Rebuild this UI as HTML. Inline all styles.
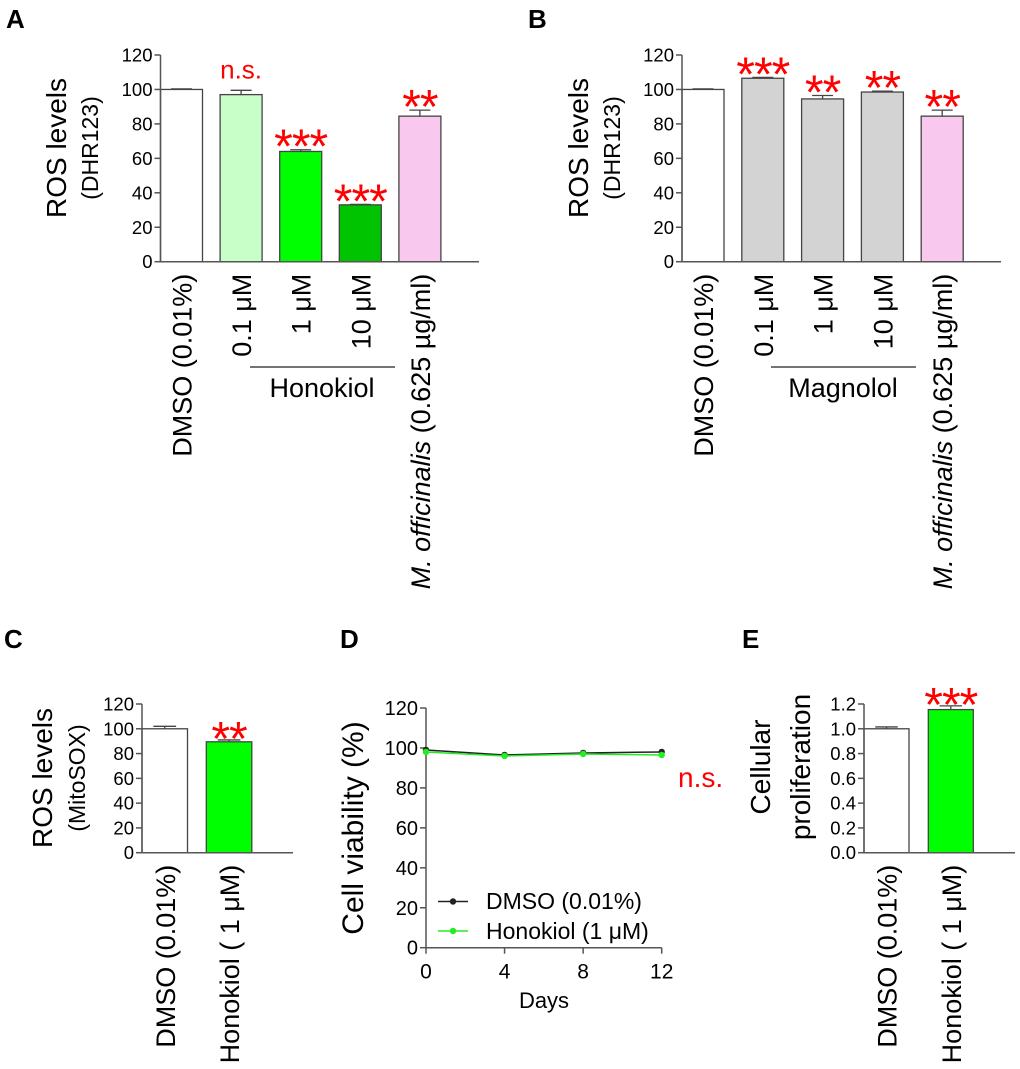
<!DOCTYPE html>
<html><head><meta charset="utf-8"><style>
body{margin:0;background:#fff}
svg{display:block;font-family:"Liberation Sans",Arial,sans-serif}
</style></head><body>
<svg id="fig" width="1020" height="1069" viewBox="0 0 1020 1069"></svg>
<script>
// Panel A data
const aCats = ["DMSO (0.01%)","0.1 μM","1 μM","10 μM","M. officinalis"];
const aVals = [100, 97, 64, 33, 84.5];
const aErrs = [0.3, 2.5, 1, 0.3, 3.5];
const aSig = ["", "n.s.", "***", "***", "**"];
// Panel B data
const bCats = ["DMSO (0.01%)","0.1 μM","1 μM","10 μM","M. officinalis"];
const bVals = [100, 106.5, 94.5, 98.5, 84.5];
const bErrs = [0.3, 0.5, 2, 0.5, 3.5];
const bSig = ["", "***", "**", "**", "**"];
const abTicks = [0,20,40,60,80,100,120];
// Panel C data
const cCats = ["DMSO (0.01%)","Honokiol ( 1 μM)"];
const cVals = [100, 89.5];
const cErrs = [2, 1.5];
const cSig = ["", "**"];
// Panel E data
const eCats = ["DMSO (0.01%)","Honokiol ( 1 μM)"];
const eVals = [1.0, 1.155];
const eErrs = [0.015, 0.03];
const eSig = ["", "***"];
const eTicks = ["0.0","0.2","0.4","0.6","0.8","1.0","1.2"];
// Panel D data
const dDays = [0, 4, 8, 12];
const dDmso = [99, 96.5, 97.5, 98];
const dHono = [98, 96, 97, 96.5];
const dTicksY = [0,20,40,60,80,100,120];

const NS="http://www.w3.org/2000/svg";
const svg=document.getElementById('fig');
function mk(tag,attrs,parent){const e=document.createElementNS(NS,tag);for(const k in attrs)e.setAttribute(k,attrs[k]);(parent||svg).appendChild(e);return e;}
function txt(s,attrs,parent){const e=mk('text',attrs,parent);e.textContent=s;return e;}

function barPanel(o){
  const g=mk('g',{});
  
  
  const y=v=>o.y0-(v-o.min)/(o.max-o.min)*(o.y0-o.yTop);
  const x=i=>o.x0+o.bw/2+i*o.step;
  o.vals.forEach((v,i)=>{
    const r=mk('rect',{x:x(i)-o.bw/2,y:y(v),width:o.bw,height:o.y0-y(v),fill:o.colors[i],stroke:'#444','stroke-width':1.3},g);
    
    
    const e=o.errs[i];
    mk('line',{x1:x(i),x2:x(i),y1:y(v),y2:y(v+e),stroke:'#444','stroke-width':1.3},g);
    mk('line',{x1:x(i)-o.bw/4,x2:x(i)+o.bw/4,y1:y(v+e),y2:y(v+e),stroke:'#444','stroke-width':1.3},g);
    const s=o.sig[i];
    if(s==='n.s.'){txt(s,{x:x(i),y:y(v+e)-12,'text-anchor':'middle','font-size':26,fill:'#ff0000'},g);}
    else if(s){const t=txt(s,{x:x(i),y:y(v+e)-o.sigOff+27,'text-anchor':'middle','font-size':48,fill:'#ff0000','letter-spacing':'-1'},g);
      
      }
    const lx=x(i)+10, ly=o.y0+12;
    const t=mk('text',{transform:`translate(${lx},${ly}) rotate(-90)`,'text-anchor':'end','font-size':o.lf},g);
    
    
    if(o.cats[i]==='M. officinalis'){
      const a=mk('tspan',{'font-style':'italic'},t);a.textContent='M. officinalis';
      const b=mk('tspan',{},t);b.textContent=' (0.625 µg/ml)';
    } else t.textContent=o.cats[i];
  });
  mk('line',{x1:o.x0,x2:o.x0,y1:o.y0,y2:o.yTop,stroke:'#555','stroke-width':1.5},g);
  mk('line',{x1:o.x0,x2:o.xEnd,y1:o.y0,y2:o.y0,stroke:'#555','stroke-width':1.5},g);
  o.ticks.forEach((tk,j)=>{
    const v=o.min+j*(o.max-o.min)/(o.ticks.length-1);
    mk('line',{x1:o.x0-6,x2:o.x0,y1:y(v),y2:y(v),stroke:'#555','stroke-width':1.5},g);
    txt(tk,{x:o.x0-8,y:y(v)+6.5,'text-anchor':'end','font-size':o.tf},g);
  });
  return g;
}

barPanel({name:'panel-a-chart',cats:aCats,vals:aVals,errs:aErrs,sig:aSig,ticks:abTicks,min:0,max:120,
  x0:160.5,xEnd:479,y0:261.7,yTop:55,bw:42,step:59.6,sigOff:14,lf:27,tf:18.5,
  colors:['#ffffff','#c8ffc8','#00ff00','#00c400','#f8c8ee']});
barPanel({name:'panel-b-chart',cats:bCats,vals:bVals,errs:bErrs,sig:bSig,ticks:abTicks,min:0,max:120,
  x0:682,xEnd:1001,y0:261.7,yTop:55,bw:42,step:59.8,sigOff:14,lf:27,tf:18.5,
  colors:['#ffffff','#d3d3d3','#d3d3d3','#d3d3d3','#f8c8ee']});
barPanel({name:'panel-c-chart',cats:cCats,vals:cVals,errs:cErrs,sig:cSig,ticks:abTicks,min:0,max:120,
  x0:142,xEnd:293,y0:852.7,yTop:704,bw:45.5,step:64.3,sigOff:12,lf:27,tf:18.5,
  colors:['#ffffff','#00ff00']});
barPanel({name:'panel-e-chart',cats:eCats,vals:eVals,errs:eErrs,sig:eSig,ticks:eTicks,min:0,max:1.2,
  x0:864,xEnd:1015,y0:852.7,yTop:704,bw:45,step:64.3,sigOff:12,lf:27,tf:18.5,
  colors:['#ffffff','#00ff00']});

(function(){
  const g=mk('g',{});
  
  
  const x0=426,x1=661.7,y0=947.7,yT=708;
  const X=d=>x0+d/12*(x1-x0), Y=v=>y0-v/120*(y0-yT);
  mk('line',{x1:x0,x2:x0,y1:y0,y2:yT,stroke:'#555','stroke-width':1.5},g);
  mk('line',{x1:x0,x2:x1,y1:y0,y2:y0,stroke:'#555','stroke-width':1.5},g);
  dTicksY.forEach(v=>{mk('line',{x1:x0-6,x2:x0,y1:Y(v),y2:Y(v),stroke:'#555','stroke-width':1.5},g);
    txt(String(v),{x:x0-8,y:Y(v)+7,'text-anchor':'end','font-size':20},g);});
  dDays.forEach(d=>{mk('line',{x1:X(d),x2:X(d),y1:y0,y2:y0+6,stroke:'#555','stroke-width':1.5},g);
    txt(String(d),{x:X(d),y:y0+31,'text-anchor':'middle','font-size':21},g);});
  [[dDmso,'#222','dmso-line'],[dHono,'#22ee22','honokiol-line']].forEach(([arr,c,n])=>{
    const p=mk('polyline',{points:arr.map((v,i)=>X(dDays[i])+','+Y(v)).join(' '),fill:'none',stroke:c,'stroke-width':1.5},g);
    
    
    arr.forEach((v,i)=>mk('circle',{cx:X(dDays[i]),cy:Y(v),r:3.2,fill:c},g));
  });
  const l1=mk('g',{},g);
  
  
  mk('line',{x1:438,x2:468,y1:901.5,y2:901.5,stroke:'#222','stroke-width':1.5},l1);
  mk('circle',{cx:453,cy:901.5,r:3.2,fill:'#222'},l1);
  txt('DMSO (0.01%)',{x:486,y:909,'font-size':23},l1);
  const l2=mk('g',{},g);
  
  
  mk('line',{x1:438,x2:468,y1:931,y2:931,stroke:'#22ee22','stroke-width':1.5},l2);
  mk('circle',{cx:453,cy:931,r:3.2,fill:'#22ee22'},l2);
  txt('Honokiol (1 μM)',{x:486,y:939,'font-size':23},l2);
})();
</script>
<script>
(function(){
const svg=document.getElementById('fig');const NS="http://www.w3.org/2000/svg";
function t(s,a,name){const e=document.createElementNS(NS,'text');for(const k in a)e.setAttribute(k,a[k]);e.textContent=s;


svg.appendChild(e);return e;}
function l(a,name){const e=document.createElementNS(NS,'line');for(const k in a)e.setAttribute(k,a[k]);e.setAttribute('stroke','#222');e.setAttribute('stroke-width','1.3');


svg.appendChild(e);}
t('A',{x:6,y:28,'font-size':26,'font-weight':'bold'},'panel-a-letter');
t('B',{x:528,y:28,'font-size':26,'font-weight':'bold'},'panel-b-letter');
t('C',{x:4,y:648,'font-size':26,'font-weight':'bold'},'panel-c-letter');
t('D',{x:340,y:648,'font-size':26,'font-weight':'bold'},'panel-d-letter');
t('E',{x:742,y:648,'font-size':26,'font-weight':'bold'},'panel-e-letter');
t('ROS levels',{transform:'translate(66,148) rotate(-90)','text-anchor':'middle','font-size':28},'panel-a-y-title');
t('(DHR123)',{transform:'translate(98,148) rotate(-90)','text-anchor':'middle','font-size':23},'panel-a-y-subtitle');
t('ROS levels',{transform:'translate(588,148) rotate(-90)','text-anchor':'middle','font-size':28},'panel-b-y-title');
t('(DHR123)',{transform:'translate(620,148) rotate(-90)','text-anchor':'middle','font-size':23},'panel-b-y-subtitle');
l({x1:250,x2:395,y1:367,y2:367},'honokiol-group-line');
t('Honokiol',{x:322,y:397,'text-anchor':'middle','font-size':27},'honokiol-group-label');
l({x1:771,x2:916,y1:367,y2:367},'magnolol-group-line');
t('Magnolol',{x:843,y:397,'text-anchor':'middle','font-size':27},'magnolol-group-label');
t('ROS levels',{transform:'translate(52,778) rotate(-90)','text-anchor':'middle','font-size':28},'panel-c-y-title');
t('(MitoSOX)',{transform:'translate(85,778) rotate(-90)','text-anchor':'middle','font-size':23},'panel-c-y-subtitle');
t('Cell viability (%)',{transform:'translate(363,828) rotate(-90)','text-anchor':'middle','font-size':30},'panel-d-y-title');
t('Days',{x:544,y:1008,'text-anchor':'middle','font-size':22},'panel-d-x-title');
t('n.s.',{x:678,y:787,'font-size':28,fill:'#ff0000'},'panel-d-significance');
t('Cellular',{transform:'translate(770,767) rotate(-90)','text-anchor':'middle','font-size':28},'panel-e-y-title-1');
t('proliferation',{transform:'translate(810,767) rotate(-90)','text-anchor':'middle','font-size':28},'panel-e-y-title-2');
})();
</script>
</body></html>
